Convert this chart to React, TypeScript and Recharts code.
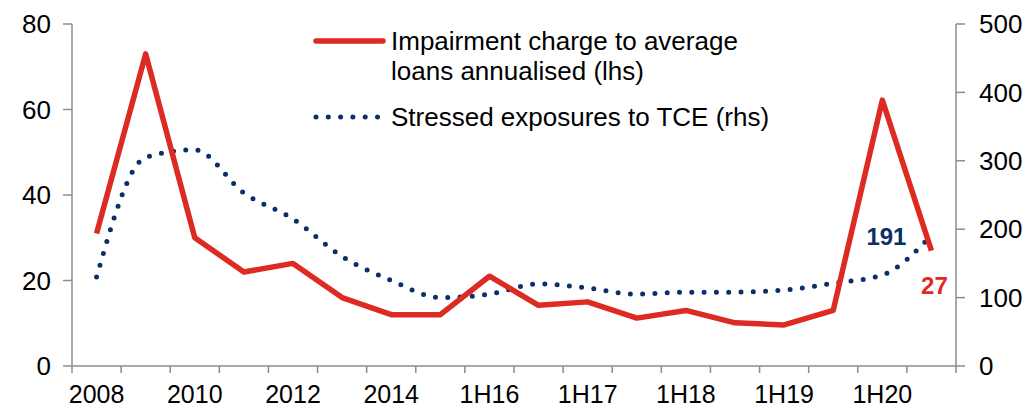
import React from "react";
import {
  ComposedChart,
  Line,
  XAxis,
  YAxis,
  LabelList,
} from "recharts";

const periods = [
  "2008", "2009", "2010", "2011", "2012", "2013", "2014", "2015",
  "1H16", "2H16", "1H17", "2H17", "1H18", "2H18", "1H19", "2H19", "1H20", "2H20",
];
const impairment = [31, 73, 30, 22, 24, 16, 12, 12, 21, 14.2, 15, 11.2, 13, 10.1, 9.6, 13, 62.2, 27];
const stressed = [130, 305, 316, 253, 215, 160, 125, 100, 105, 120, 114, 105, 108, 108, 111, 121, 133, 191];
const leftTicks = [0, 20, 40, 60, 80];
const rightTicks = [0, 100, 200, 300, 400, 500];

const RED = "#DD2A22";
const NAVY = "#0A2F6B";
const AXIS = "#8C8C8C";
const FONT = "'Liberation Sans', Arial, sans-serif";

const data = periods.map((p, i) => ({
  period: p,
  impairment: impairment[i],
  stressed: stressed[i],
}));

// plot area edges, used for the between-category tick marks
const PLOT_LEFT = 72;
const PLOT_RIGHT = 956;
const band = (PLOT_RIGHT - PLOT_LEFT) / periods.length;

const CategoryTick = (props: any) => {
  const { x, y, payload, index } = props;
  const left = x - band / 2;
  return (
    <g>
      <line x1={left} x2={left} y1={y - 8} y2={y - 1} stroke={AXIS} strokeWidth={1.5} />
      {index === periods.length - 1 && (
        <line x1={x + band / 2} x2={x + band / 2} y1={y - 8} y2={y - 1} stroke={AXIS} strokeWidth={1.5} />
      )}
      {index % 2 === 0 && (
        <text x={x} y={y + 29} textAnchor="middle" fill="#000" fontSize={25} fontFamily={FONT}>
          {payload.value}
        </text>
      )}
    </g>
  );
};

const lastOnly = (color: string, dx: number, dy: number) => (props: any) => {
  const { x, y, value, index } = props;
  if (index !== periods.length - 1) return null;
  return (
    <text x={x + dx} y={y + dy} textAnchor="middle" fill={color} fontSize={24} fontWeight="bold" fontFamily={FONT}>
      {Math.round(value)}
    </text>
  );
};

const LegendBox = () => (
  <div
    style={{
      position: "absolute",
      left: 310,
      top: 26,
      fontFamily: FONT,
      fontSize: 26,
      color: "#000",
      lineHeight: "30px",
      pointerEvents: "none",
    }}
  >
    <div style={{ display: "flex", alignItems: "flex-start" }}>
      <svg width={81} height={30}>
        <line x1={6} x2={73} y1={15} y2={15} stroke={RED} strokeWidth={5.5} strokeLinecap="round" />
      </svg>
      <div>
        Impairment charge to average
        <br />
        loans annualised (lhs)
      </div>
    </div>
    <div style={{ display: "flex", alignItems: "flex-start", marginTop: 16 }}>
      <svg width={81} height={30}>
        <line x1={6} x2={70} y1={15} y2={15} stroke={NAVY} strokeWidth={5} strokeLinecap="round" strokeDasharray="0 12.3" />
      </svg>
      <div>Stressed exposures to TCE (rhs)</div>
    </div>
  </div>
);

export default function App() {
  return (
    <div style={{ position: "absolute", left: 0, top: 0, width: 1025, height: 410, background: "#fff" }}>
      <ComposedChart
        width={1025}
        height={410}
        data={data}
        margin={{ top: 24, right: 0, left: 0, bottom: 0 }}
      >
        <XAxis
          dataKey="period"
          interval={0}
          height={44}
          padding={{ left: band / 2, right: band / 2 }}
          axisLine={{ stroke: AXIS, strokeWidth: 1.5 }}
          tickLine={false}
          tick={<CategoryTick />}
        />
        <YAxis
          yAxisId="left"
          orientation="left"
          width={72}
          domain={[0, 80]}
          ticks={leftTicks}
          axisLine={{ stroke: AXIS, strokeWidth: 1.5 }}
          tickLine={{ stroke: AXIS, strokeWidth: 1.5 }}
          tickSize={9}
          tickMargin={12}
          tick={{ fill: "#000", fontSize: 26, fontFamily: FONT }}
        />
        <YAxis
          yAxisId="right"
          orientation="right"
          width={69}
          domain={[0, 500]}
          ticks={rightTicks}
          axisLine={{ stroke: AXIS, strokeWidth: 1.5 }}
          tickLine={{ stroke: AXIS, strokeWidth: 1.5 }}
          tickSize={9}
          tickMargin={14}
          tick={{ fill: "#000", fontSize: 26, fontFamily: FONT }}
        />
        <Line
          yAxisId="right"
          type="monotone"
          dataKey="stressed"
          stroke={NAVY}
          strokeWidth={5}
          strokeLinecap="round"
          strokeDasharray="0 12.3"
          dot={false}
          isAnimationActive={false}
        >
          <LabelList dataKey="stressed" content={lastOnly(NAVY, -45, 10)} />
        </Line>
        <Line
          yAxisId="left"
          type="linear"
          dataKey="impairment"
          stroke={RED}
          strokeWidth={5.5}
          strokeLinejoin="round"
          dot={false}
          isAnimationActive={false}
        >
          <LabelList dataKey="impairment" content={lastOnly(RED, 3, 43)} />
        </Line>
      </ComposedChart>
      <LegendBox />
    </div>
  );
}
